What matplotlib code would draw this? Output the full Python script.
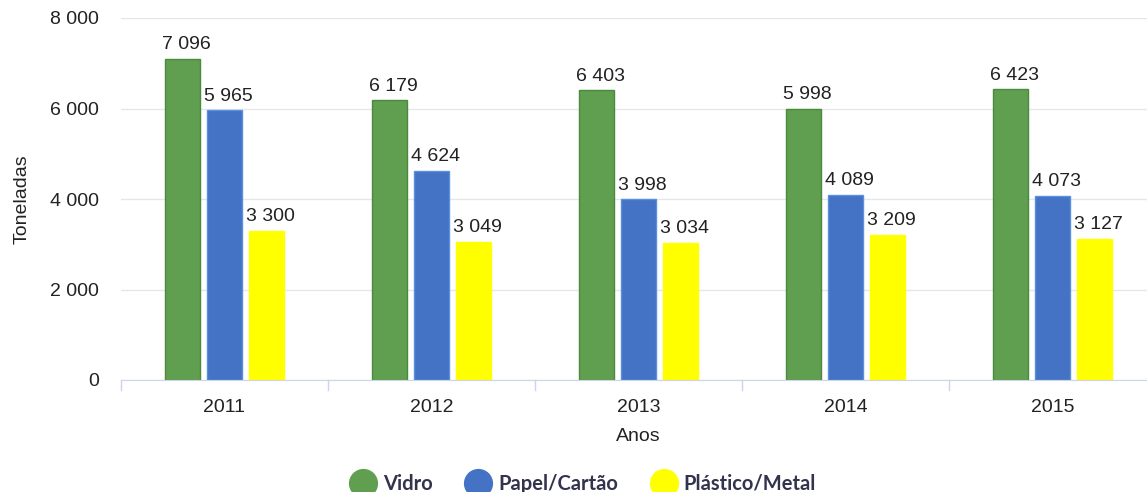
import matplotlib.pyplot as plt
from matplotlib.lines import Line2D
import numpy as np

# recolha seletiva por ano (toneladas)
anos = ['2011', '2012', '2013', '2014', '2015']
vidro = [7096, 6179, 6403, 5998, 6423]
papel = [5965, 4624, 3998, 4089, 4073]
plastico = [3300, 3049, 3034, 3209, 3127]
series = ['Vidro', 'Papel/Cartão', 'Plástico/Metal']

cores = ['#609f50', '#4472c4', '#ffff00']
bordas = ['#4b8a3c', '#5b8fe0', '#ffff00']

plt.rcParams['font.family'] = 'Liberation Sans'
fs = 14

fig = plt.figure(figsize=(11.47, 4.92), dpi=100)
ax = fig.add_axes([121 / 1147, 112 / 492, 1035 / 1147, 362 / 492])

x = np.arange(len(anos))
passo = 0.203
largura = 0.172
for i, (vals, cor, borda, nome) in enumerate(zip([vidro, papel, plastico], cores, bordas, series)):
    pos = x + (i - 1) * passo
    ax.bar(pos, vals, width=largura, color=cor, edgecolor=borda, linewidth=1, zorder=3, label=nome)
    for px, v in zip(pos, vals):
        ax.annotate(f'{v:,}'.replace(',', ' '), (px, v), xytext=(3, 4), textcoords='offset points',
                    ha='center', va='bottom', fontsize=fs, color='#222222')

ax.set_xlim(-0.5, 4.5)
ax.set_ylim(0, 8000)
ax.set_yticks([0, 2000, 4000, 6000, 8000])
ax.set_yticklabels(['0', '2 000', '4 000', '6 000', '8 000'], fontsize=fs, color='#222222')
ax.yaxis.grid(True, color='#e6e6e6', linewidth=1, zorder=0)
ax.tick_params(axis='y', length=0, pad=16)

ax.set_xticks(x)
ax.set_xticklabels(anos, fontsize=fs, color='#222222')
ax.tick_params(axis='x', length=0, pad=14)
# marcas de separação entre categorias
for b in np.arange(-0.5, 5, 1.0):
    ax.plot([b, b], [0, -0.028], transform=ax.get_xaxis_transform(), color='#ccd6eb',
            linewidth=1, clip_on=False)

for s in ['top', 'right', 'left']:
    ax.spines[s].set_visible(False)
ax.spines['bottom'].set_color('#ccd6eb')
ax.spines['bottom'].set_zorder(4)

ax.set_xlabel('Anos', fontsize=fs, color='#222222', labelpad=8)
ax.set_ylabel('Toneladas', fontsize=fs, color='#222222', labelpad=14)

handles = [Line2D([], [], marker='o', linestyle='none', markersize=20, markerfacecolor=c,
                  markeredgecolor=c) for c in cores]
leg = fig.legend(handles, series, loc='lower center', bbox_to_anchor=(584 / 1147, -0.04), ncol=3,
                 frameon=False, handlelength=1.1, handletextpad=0.45, columnspacing=1.7,
                 prop={'family': 'Lato', 'weight': 'bold', 'size': 14.5})
for t in leg.get_texts():
    t.set_color('#33334d')

fig.savefig('out.png', dpi=100)
